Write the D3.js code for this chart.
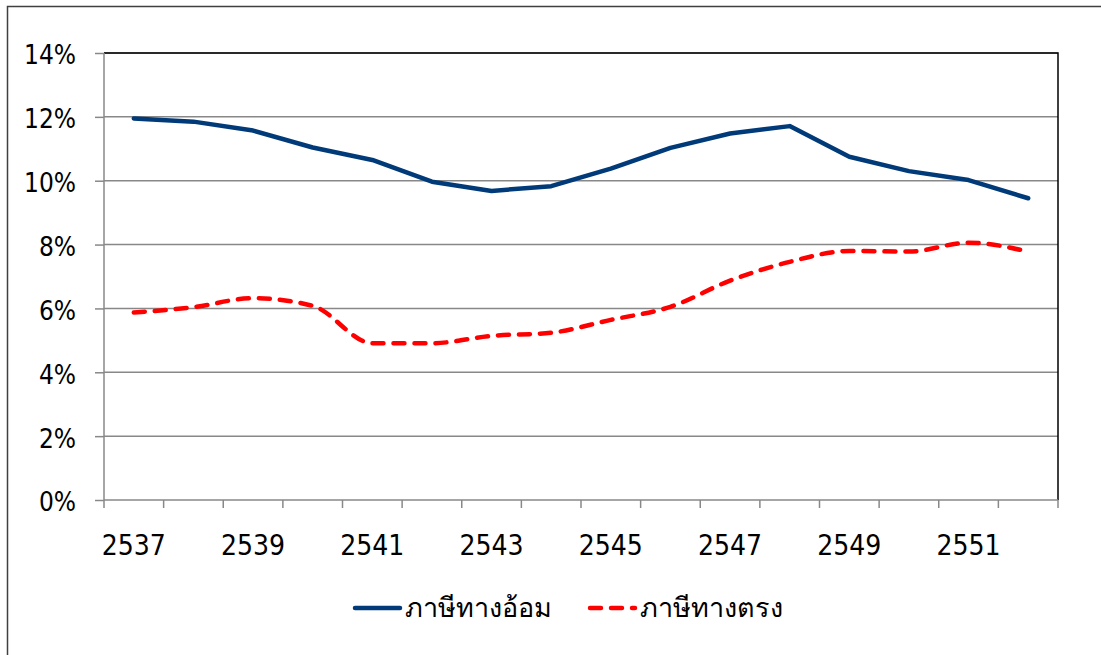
<!DOCTYPE html>
<html>
  <head>
    <meta charset="utf-8">
    <title>ภาษีทางอ้อม และ ภาษีทางตรง</title>
    <script src="https://d3js.org/d3.v7.min.js"></script>
    <style>
      body { margin: 0; background: #fff; }
      svg { display: block; font-family: "DejaVu Sans Condensed", "DejaVu Sans", sans-serif; }
    </style>
  </head>
  <body>
    <div id="chart"></div>
    <script>
      // data
      var years = ["2537", "2538", "2539", "2540", "2541", "2542", "2543", "2544",
                   "2545", "2546", "2547", "2548", "2549", "2550", "2551", "2552"];
      var indirectTax = [11.95, 11.85, 11.57, 11.04, 10.65, 9.97, 9.68, 9.83,
                         10.38, 11.03, 11.48, 11.71, 10.75, 10.30, 10.02, 9.45];
      var directTax = [5.87, 6.04, 6.32, 6.08, 4.91, 4.91, 5.14, 5.24,
                       5.64, 6.05, 6.87, 7.46, 7.80, 7.78, 8.06, 7.78];
      var yTicks = [0, 2, 4, 6, 8, 10, 12, 14];
      var seriesNames = ["ภาษีทางอ้อม", "ภาษีทางตรง"];

      var width = 1101, height = 655;
      var margin = { top: 53, right: 43, bottom: 155, left: 104 };
      var w = width - margin.left - margin.right;
      var h = height - margin.top - margin.bottom;

      var svg = d3.select("#chart").append("svg")
        .attr("width", width)
        .attr("height", height);

      // chart border (runs off the right and bottom edges)
      svg.append("rect")
        .attr("x", 7.5).attr("y", 6.5)
        .attr("width", 1120).attr("height", 680)
        .attr("fill", "none")
        .attr("stroke", "#404040")
        .attr("stroke-width", 1.5);

      var g = svg.append("g")
        .attr("transform", "translate(" + margin.left + "," + margin.top + ")");

      var x = d3.scaleBand().domain(years).range([0, w]);
      var y = d3.scaleLinear().domain([0, 14]).range([h, 0]);

      // gridlines
      g.selectAll(".grid")
        .data(yTicks.slice(1))
        .enter().append("line")
          .attr("x1", 0).attr("x2", w)
          .attr("y1", function(d) { return y(d); })
          .attr("y2", function(d) { return y(d); })
          .attr("stroke", "#888")
          .attr("stroke-width", 1.5);

      // plot frame top and right
      g.append("path")
        .attr("d", "M0," + y(14) + "H" + w + "V" + h)
        .attr("fill", "none")
        .attr("stroke", "#000")
        .attr("stroke-width", 1.5);

      // y axis
      var yAxis = g.append("g")
        .call(d3.axisLeft(y).tickValues(yTicks).tickSize(9).tickPadding(19)
          .tickFormat(function(d) { return d + "%"; }));
      // x axis, ticks at band boundaries
      var xAxis = g.append("g")
        .attr("transform", "translate(0," + h + ")")
        .call(d3.axisBottom(x).tickSize(0).tickPadding(35)
          .tickFormat(function(d, i) { return i % 2 === 0 ? d : ""; }));
      xAxis.selectAll(".boundary")
        .data(d3.range(years.length + 1))
        .enter().append("line")
          .attr("x1", function(i) { return i * x.step(); })
          .attr("x2", function(i) { return i * x.step(); })
          .attr("y1", 0).attr("y2", 8)
          .attr("stroke", "#888")
          .attr("stroke-width", 1.5);

      [yAxis, xAxis].forEach(function(a) {
        a.select(".domain").attr("stroke", "#888").attr("stroke-width", 1.5);
        a.selectAll(".tick line").attr("stroke", "#888").attr("stroke-width", 1.5);
        a.selectAll("text").attr("fill", "#000").style("font-size", "26px")
          .style("font-family", "'DejaVu Sans Condensed', 'DejaVu Sans', sans-serif");
      });
      yAxis.selectAll("text").attr("dy", "0.42em");
      xAxis.selectAll("text").style("font-size", "28px");
      xAxis.select(".domain").attr("d", "M0,0H" + w);
      yAxis.select(".domain").attr("d", "M0,0V" + h);

      var cx = function(d, i) { return x(years[i]) + x.bandwidth() / 2; };

      // indirect tax line
      g.append("path")
        .datum(indirectTax)
        .attr("fill", "none")
        .attr("stroke", "#003a78")
        .attr("stroke-width", 4.5)
        .attr("stroke-linecap", "round")
        .attr("stroke-linejoin", "round")
        .attr("d", d3.line().x(cx).y(function(d) { return y(d); }));

      // direct tax line (smoothed, dashed)
      g.append("path")
        .datum(directTax)
        .attr("fill", "none")
        .attr("stroke", "#ff0000")
        .attr("stroke-width", 4.5)
        .attr("stroke-linecap", "round")
        .attr("stroke-dasharray", "11,10")
        .attr("d", d3.line().x(cx).y(function(d) { return y(d); })
          .curve(d3.curveMonotoneX));

      // legend
      var legend = svg.append("g").attr("transform", "translate(0,608)");
      var items = [
        { name: seriesNames[0], color: "#003a78", dash: null, x: 355 },
        { name: seriesNames[1], color: "#ff0000", dash: "11,10", x: 590 }
      ];
      items.forEach(function(d) {
        legend.append("line")
          .attr("x1", d.x).attr("x2", d.x + 45)
          .attr("stroke", d.color)
          .attr("stroke-width", 4.5)
          .attr("stroke-linecap", "round")
          .attr("stroke-dasharray", d.dash);
        legend.append("text")
          .attr("x", d.x + 50)
          .attr("dy", "0.35em")
          .style("font-size", "27px")
          .text(d.name);
      });
    </script>
  </body>
</html>
